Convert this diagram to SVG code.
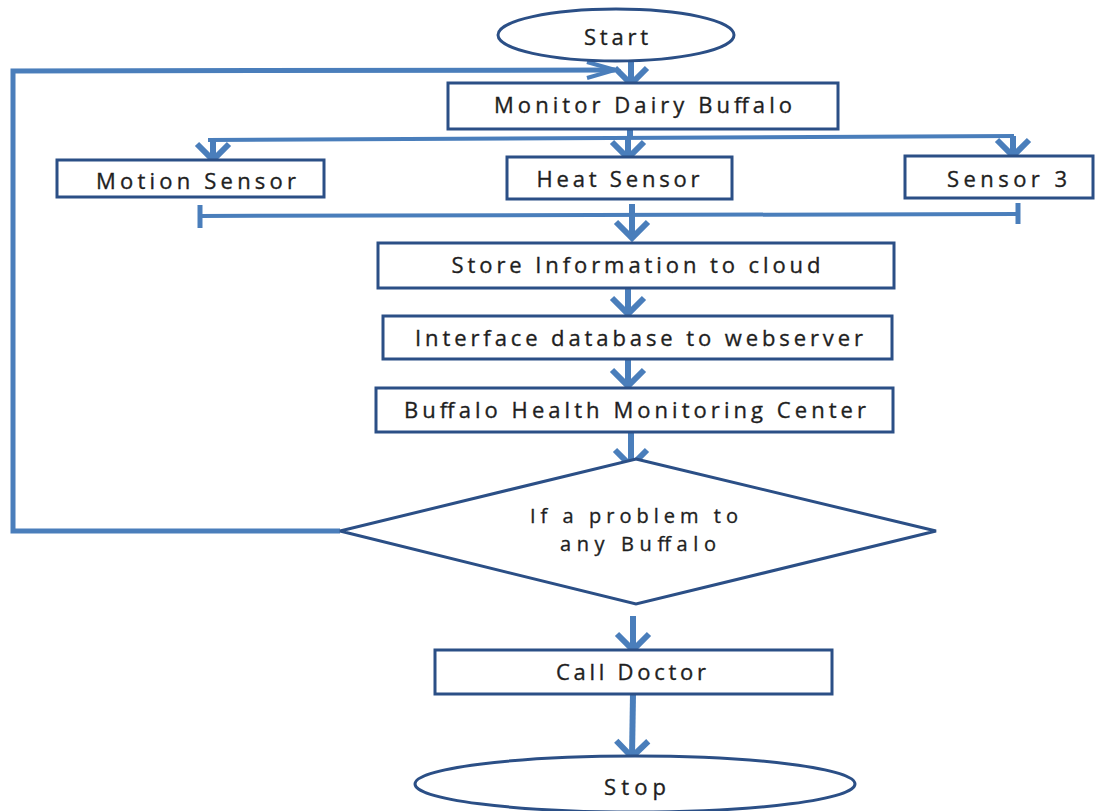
<svg xmlns="http://www.w3.org/2000/svg" width="1099" height="811" viewBox="0 0 1099 811">
<style>
.box{fill:#ffffff;stroke:#2B4F86;stroke-width:3}
.conn{stroke:#4A7EBB;fill:none;stroke-linecap:butt;stroke-linejoin:miter}
.t{font-family:"Open Sans","Liberation Sans",sans-serif;font-size:22px;fill:#1f1f1f;stroke:#1f1f1f;stroke-width:0.35;text-anchor:middle}
.d{font-size:20px}
</style>
<defs>
<marker id="ah" markerUnits="userSpaceOnUse" markerWidth="40" markerHeight="40" viewBox="-20 -20 40 40" refX="0" refY="0" orient="auto">
<path d="M-16,-16 L0,0 L-16,16" fill="none" stroke="#4A7EBB" stroke-width="6"/>
</marker>
<marker id="ahs" markerUnits="userSpaceOnUse" markerWidth="40" markerHeight="40" viewBox="-34 -20 40 40" refX="0" refY="0" orient="auto">
<path d="M-28,-8 L0,0 L-28,8" fill="none" stroke="#4A7EBB" stroke-width="4"/>
</marker>
</defs>
<rect width="1099" height="811" fill="#ffffff"/>

<g id="connectors">
<polyline class="conn" points="340,531 13,531 13,71 615,70" stroke-width="5" marker-end="url(#ahs)"/>
<line class="conn" x1="631" y1="60" x2="631" y2="84" stroke-width="6" marker-end="url(#ah)"/>
<line class="conn" x1="630" y1="128" x2="630" y2="139" stroke-width="6"/>
<line class="conn" x1="208" y1="140" x2="1014" y2="136" stroke-width="4"/>
<line class="conn" x1="213" y1="140" x2="213" y2="160" stroke-width="6" marker-end="url(#ah)"/>
<line class="conn" x1="628" y1="138" x2="628" y2="158" stroke-width="6" marker-end="url(#ah)"/>
<line class="conn" x1="1013" y1="136" x2="1013" y2="156" stroke-width="6" marker-end="url(#ah)"/>
<line class="conn" x1="200" y1="216" x2="1018" y2="214" stroke-width="4"/>
<line class="conn" x1="200" y1="205" x2="200" y2="228" stroke-width="5"/>
<line class="conn" x1="1018" y1="203" x2="1018" y2="224" stroke-width="5"/>
<line class="conn" x1="632" y1="204" x2="632" y2="238" stroke-width="6" marker-end="url(#ah)"/>
<line class="conn" x1="628" y1="288" x2="628" y2="314" stroke-width="6" marker-end="url(#ah)"/>
<line class="conn" x1="628" y1="359" x2="628" y2="386" stroke-width="6" marker-end="url(#ah)"/>
<line class="conn" x1="631" y1="430" x2="631" y2="466" stroke-width="6" marker-end="url(#ah)"/>
<line class="conn" x1="633" y1="616" x2="633" y2="650" stroke-width="6" marker-end="url(#ah)"/>
<line class="conn" x1="633" y1="694" x2="632" y2="757" stroke-width="6" marker-end="url(#ah)"/>
</g>

<g id="start">
<ellipse class="box" cx="616" cy="35" rx="118" ry="26"/>
<text class="t" x="616" y="45" textLength="64" lengthAdjust="spacing">Start</text>
</g>
<g id="monitor">
<rect class="box" x="448" y="83" width="390" height="46"/>
<text class="t" x="643" y="113" textLength="298" lengthAdjust="spacing">Monitor Dairy Buffalo</text>
</g>
<g id="motion">
<rect class="box" x="57" y="160" width="267" height="37"/>
<text class="t" x="196" y="189" textLength="200" lengthAdjust="spacing">Motion Sensor</text>
</g>
<g id="heat">
<rect class="box" x="507" y="157" width="225" height="42"/>
<text class="t" x="618" y="187" textLength="163" lengthAdjust="spacing">Heat Sensor</text>
</g>
<g id="sensor3">
<rect class="box" x="905" y="156" width="188" height="42"/>
<text class="t" x="1007" y="187" textLength="120" lengthAdjust="spacing">Sensor 3</text>
</g>
<g id="store">
<rect class="box" x="378" y="243" width="516" height="45"/>
<text class="t" x="636" y="273" textLength="369" lengthAdjust="spacing">Store Information to cloud</text>
</g>
<g id="interface">
<rect class="box" x="383" y="316" width="509" height="43"/>
<text class="t" x="639" y="346" textLength="448" lengthAdjust="spacing">Interface database to webserver</text>
</g>
<g id="center">
<rect class="box" x="376" y="388" width="517" height="44"/>
<text class="t" x="635" y="418" textLength="462" lengthAdjust="spacing">Buffalo Health Monitoring Center</text>
</g>
<g id="decision">
<polygon class="box" points="636,459 936,531 636,604 340,531"/>
<text class="t d" x="634" y="523" textLength="208" lengthAdjust="spacing">If a problem to</text>
<text class="t d" x="638" y="551" textLength="156" lengthAdjust="spacing">any Buffalo</text>
</g>
<g id="doctor">
<rect class="box" x="435" y="650" width="397" height="44"/>
<text class="t" x="631" y="680" textLength="150" lengthAdjust="spacing">Call Doctor</text>
</g>
<g id="stop">
<ellipse class="box" cx="635" cy="784" rx="220" ry="28"/>
<text class="t" x="635" y="795" textLength="62" lengthAdjust="spacing">Stop</text>
</g>
</svg>
